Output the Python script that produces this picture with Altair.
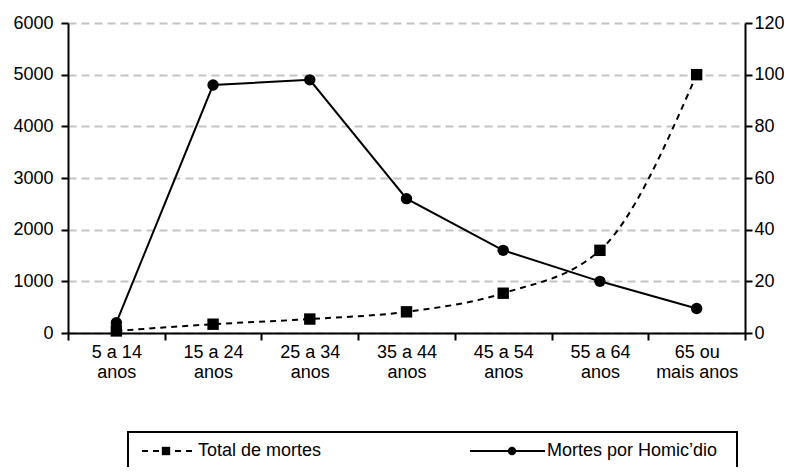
import altair as alt
import pandas as pd

categories = ["5 a 14 anos", "15 a 24 anos", "25 a 34 anos", "35 a 44 anos",
              "45 a 54 anos", "55 a 64 anos", "65 ou mais anos"]
total_mortes = [40, 170, 270, 410, 770, 1600, 5000]
mortes_homicidio = [4, 96, 98, 52, 32, 20, 9.5]
series_names = ["Total de mortes", "Mortes por Homic\u2019dio"]
left_ticks = [0, 1000, 2000, 3000, 4000, 5000, 6000]
right_ticks = [0, 20, 40, 60, 80, 100, 120]

df = pd.DataFrame({"cat": categories, "total": total_mortes, "homic": mortes_homicidio})

FONT = "Liberation Sans"
FS = 18

label_expr = ("datum.label == '' ? '' : datum.label == '65 ou mais anos' ? ['65 ou', 'mais anos'] : "
              "[replace(datum.label, ' anos', ''), 'anos']")

x_enc = alt.X(
    "cat:N", sort=categories, bandPosition=0.5,
    scale=alt.Scale(type="band", paddingInner=0, paddingOuter=0),
    axis=alt.Axis(title=None, labelAngle=0, tickBand="extent", labelExpr=label_expr,
                  domainColor="black", domainWidth=2, tickColor="black", tickWidth=2,
                  tickSize=7, labelPadding=3, labelLineHeight=20, grid=False),
)

base = alt.Chart(df)

total_line = base.mark_line(color="black", strokeWidth=2, strokeDash=[6, 5],
                            interpolate="monotone").encode(
    x=x_enc,
    y=alt.Y("total:Q", scale=alt.Scale(domain=[0, 6000], nice=False),
            axis=alt.Axis(title=None, values=left_ticks, orient="left", format="d",
                          grid=True, gridDash=[8, 5], gridColor="#c4c4c4", gridWidth=2,
                          domainColor="black", domainWidth=2, tickColor="black",
                          tickWidth=2, tickSize=7, labelPadding=8)),
)
total_pts = base.mark_point(shape="square", filled=True, color="black", size=130,
                            opacity=1).encode(x=x_enc, y=alt.Y("total:Q"))

homic_line = base.mark_line(color="black", strokeWidth=2).encode(
    x=x_enc,
    y=alt.Y("homic:Q", scale=alt.Scale(domain=[0, 120], nice=False),
            axis=alt.Axis(title=None, values=right_ticks, orient="right", grid=False,
                          format="d",
                          domainColor="black", domainWidth=2, tickColor="black",
                          tickWidth=2, tickSize=7, labelPadding=2)),
)
homic_pts = base.mark_point(shape="circle", filled=True, color="black", size=130,
                            opacity=1).encode(x=x_enc, y=alt.Y("homic:Q"))

left = alt.layer(total_line, total_pts)
right = alt.layer(homic_line, homic_pts)

# legend
leg1 = pd.DataFrame({"name": [series_names[0]]})
leg2 = pd.DataFrame({"name": [series_names[1]]})
box = alt.Chart(leg1).mark_rect(fillOpacity=0, stroke="black", strokeWidth=2).encode(
    x=alt.value(60), x2=alt.value(669), y=alt.value(409), y2=alt.value(445))
ly = 428
l1_rule = alt.Chart(leg1).mark_rule(color="black", strokeWidth=2, strokeDash=[6, 5]).encode(
    x=alt.value(74), x2=alt.value(124), y=alt.value(ly))
l1_pt = alt.Chart(leg1).mark_point(shape="square", filled=True, color="black", size=70,
                                   opacity=1).encode(x=alt.value(98), y=alt.value(ly))
l1_txt = alt.Chart(leg1).mark_text(align="left", baseline="middle", font=FONT, fontSize=FS,
                                   color="black").encode(
    x=alt.value(130), y=alt.value(ly), text="name:N")
l2_rule = alt.Chart(leg2).mark_rule(color="black", strokeWidth=2).encode(
    x=alt.value(402), x2=alt.value(477), y=alt.value(ly))
l2_pt = alt.Chart(leg2).mark_point(shape="circle", filled=True, color="black", size=70,
                                   opacity=1).encode(x=alt.value(444), y=alt.value(ly))
l2_txt = alt.Chart(leg2).mark_text(align="left", baseline="middle", font=FONT, fontSize=FS,
                                   color="black").encode(
    x=alt.value(479), y=alt.value(ly), text="name:N")

chart = alt.layer(left, right, box, l1_rule, l1_pt, l1_txt, l2_rule, l2_pt, l2_txt).resolve_scale(
    y="independent"
).properties(
    width=677, height=310,
    padding={"left": 60, "top": 15, "right": 39, "bottom": 134},
    autosize=alt.AutoSizeParams(type="none"),
    background="white",
).configure_view(strokeWidth=0).configure_axis(
    labelFont=FONT, labelFontSize=FS, labelColor="black"
)

chart.save("out.html", embed_options={"renderer": "svg", "actions": False})
